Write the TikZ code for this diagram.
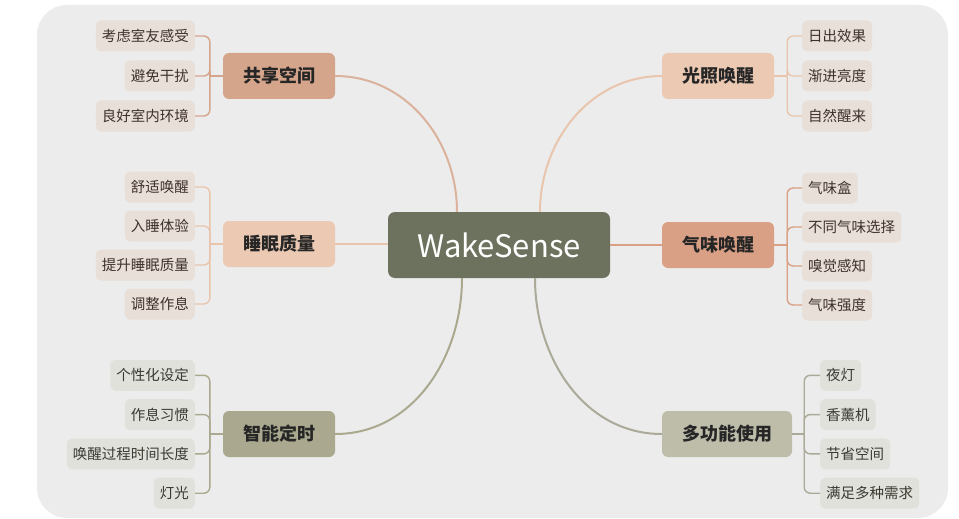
\documentclass[tikz,border=0pt]{standalone}
\usepackage{fontspec}
\setmainfont{Noto Sans CJK SC}
\usetikzlibrary{positioning}

\definecolor{bgGrey}{HTML}{ECECEC}
\definecolor{hubOlive}{HTML}{6D725E}
\definecolor{shareTan}{HTML}{D5A58B}
\definecolor{peachLight}{HTML}{EBC9B2}
\definecolor{smellTan}{HTML}{D9A085}
\definecolor{timerKhaki}{HTML}{AAA98F}
\definecolor{multiKhaki}{HTML}{BEBDAA}
\definecolor{warmLeaf}{HTML}{E8DFD8}
\definecolor{greyLeaf}{HTML}{E1E1DB}
\definecolor{warmText}{HTML}{3E322B}
\definecolor{greyText}{HTML}{3A3A33}

\tikzset{
    leaf/.style = {fill = #1, rounded corners = 5pt, inner xsep = 6pt, inner ysep = 0pt,
        minimum height = 31pt, font = \fontsize{14.5}{15}\selectfont},
    branch/.style = {fill = #1, rounded corners = 6pt, inner xsep = 20pt, inner ysep = 0pt,
        minimum height = 46pt, font = \fontsize{18}{20}\selectfont\bfseries, text = black!85},
    link/.style = {draw = #1, line width = 1.4pt, rounded corners = 6pt},
    trunk/.style = {draw = #1, line width = 2pt}
}

\begin{document}
\begin{tikzpicture}[x = 1pt, y = -1pt]
    \useasboundingbox (0,0) rectangle (959,519);
    \fill[white] (0,0) rectangle (959,519);
    \fill[bgGrey, rounded corners = 30pt] (37,5) rectangle (948,518);

    % hub and branches
    \node[fill = hubOlive, rounded corners = 7pt, minimum width = 222pt, minimum height = 66pt,
        text = white, font = \fontsize{31}{34}\selectfont] (hub) at (499,245) {WakeSense};
    \node[branch = shareTan] (share) at (279,76) {共享空间};
    \node[branch = peachLight] (sleep) at (279,244) {睡眠质量};
    \node[branch = timerKhaki] (timer) at (279,434) {智能定时};
    \node[branch = peachLight] (light) at (718,76) {光照唤醒};
    \node[branch = smellTan] (smell) at (718,245) {气味唤醒};
    \node[branch = multiKhaki] (multi) at (727,434) {多功能使用};

    \draw[trunk = shareTan!85] (share.east) to[out = 0, in = 90] ([xshift = -42pt]hub.north);
    \draw[trunk = peachLight!90!shareTan] (light.west) to[out = 180, in = 90] ([xshift = 41pt]hub.north);
    \draw[trunk = peachLight!90!shareTan] (sleep.east) -- (sleep.east -| hub.west);
    \draw[trunk = smellTan] (hub.east |- smell.west) -- (smell.west);
    \draw[trunk = timerKhaki] (timer.east) to[out = 0, in = -90] ([xshift = -37pt]hub.south);
    \draw[trunk = multiKhaki!90!black] (multi.west) to[out = 180, in = -90] ([xshift = 36pt]hub.south);

    % leaves
    \foreach \t [count = \i] in {考虑室友感受, 避免干扰, 良好室内环境}
        \node[leaf = warmLeaf, text = warmText, anchor = east] (share\i) at (195,{-4+40*\i}) {\t};
    \foreach \t [count = \i] in {舒适唤醒, 入睡体验, 提升睡眠质量, 调整作息}
        \node[leaf = warmLeaf, text = warmText, anchor = east] (sleep\i) at (195,{148+39*\i}) {\t};
    \foreach \t [count = \i] in {个性化设定, 作息习惯, 唤醒过程时间长度, 灯光}
        \node[leaf = greyLeaf, text = greyText, anchor = east] (timer\i) at (195,{336+39.3*\i}) {\t};
    \foreach \t [count = \i] in {日出效果, 渐进亮度, 自然醒来}
        \node[leaf = warmLeaf, text = warmText, anchor = west] (light\i) at (802,{-4+40*\i}) {\t};
    \foreach \t [count = \i] in {气味盒, 不同气味选择, 嗅觉感知, 气味强度}
        \node[leaf = warmLeaf, text = warmText, anchor = west] (smell\i) at (802,{149+39*\i}) {\t};
    \foreach \t [count = \i] in {夜灯, 香薰机, 节省空间, 满足多种需求}
        \node[leaf = greyLeaf, text = greyText, anchor = west] (multi\i) at (820,{336+39.3*\i}) {\t};

    % brackets
    \draw[link = shareTan] (share.west) -- ++(-13,0) coordinate (shareJ);
    \foreach \i in {1,2,3} \draw[link = shareTan] (shareJ) |- (share\i.east);
    \draw[link = peachLight!90!shareTan] (sleep.west) -- ++(-13,0) coordinate (sleepJ);
    \foreach \i in {1,...,4} \draw[link = peachLight!90!shareTan] (sleepJ) |- (sleep\i.east);
    \draw[link = timerKhaki] (timer.west) -- ++(-13,0) coordinate (timerJ);
    \foreach \i in {1,...,4} \draw[link = timerKhaki] (timerJ) |- (timer\i.east);
    \draw[link = peachLight!90!shareTan] (light.east) -- ++(13,0) coordinate (lightJ);
    \foreach \i in {1,2,3} \draw[link = peachLight!90!shareTan] (lightJ) |- (light\i.west);
    \draw[link = smellTan] (smell.east) -- ++(13,0) coordinate (smellJ);
    \foreach \i in {1,...,4} \draw[link = smellTan] (smellJ) |- (smell\i.west);
    \draw[link = multiKhaki!90!black] (multi.east) -- ++(12,0) coordinate (multiJ);
    \foreach \i in {1,...,4} \draw[link = multiKhaki!90!black] (multiJ) |- (multi\i.west);
\end{tikzpicture}
\end{document}
